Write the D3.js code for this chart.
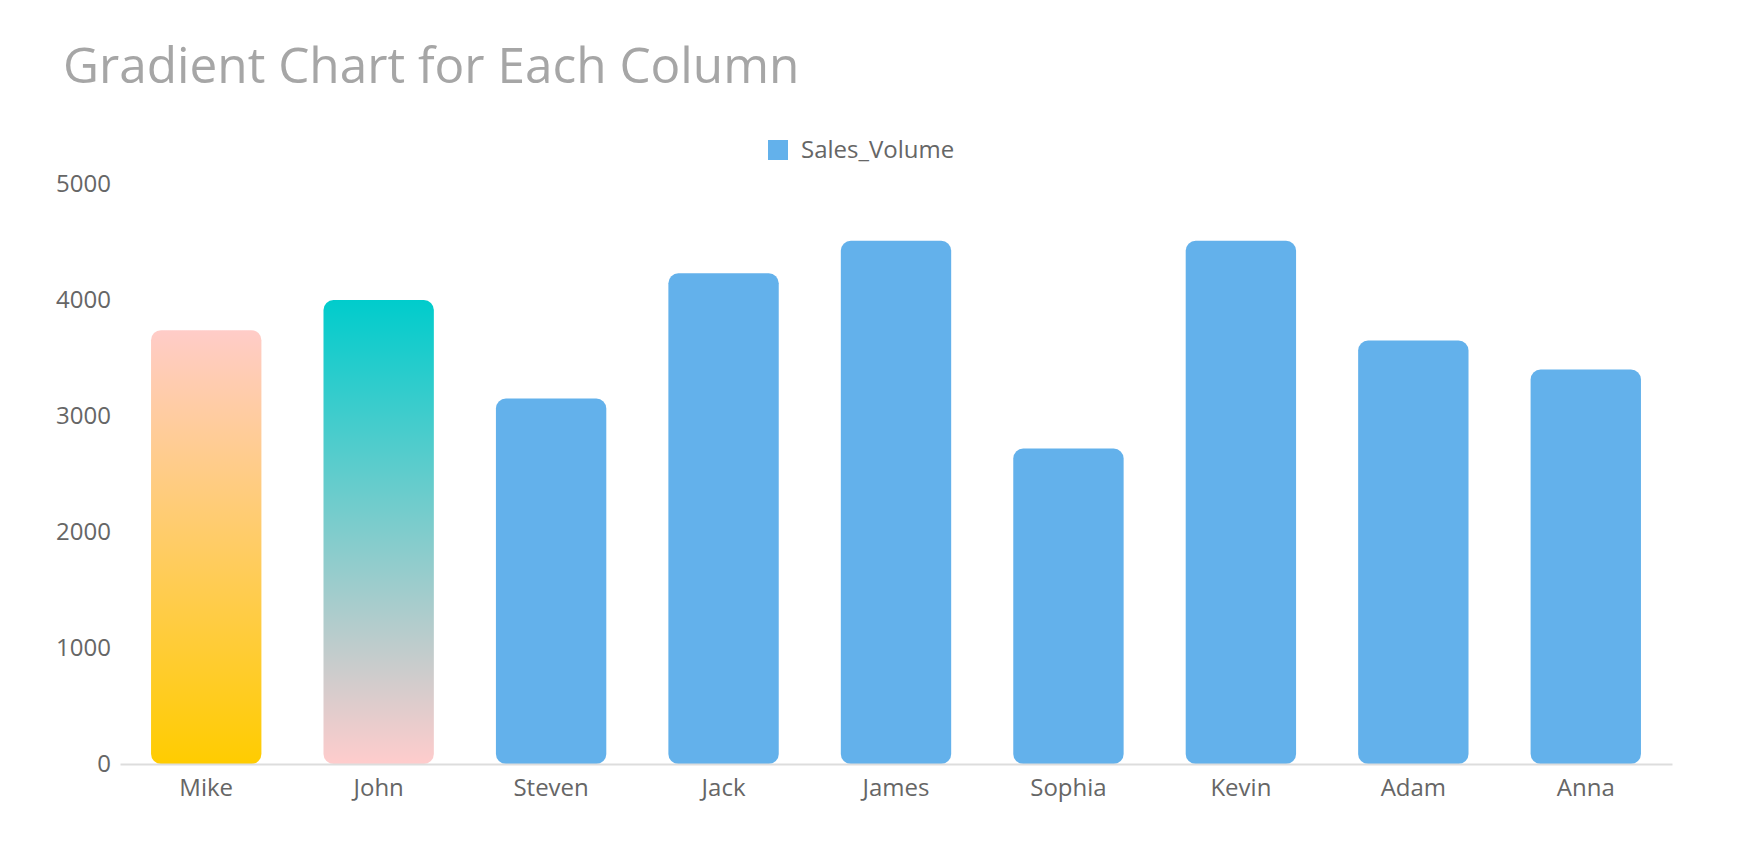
<!DOCTYPE html>
<html>
<head>
<meta charset="utf-8">
<script src="https://cdn.jsdelivr.net/npm/d3@7"></script>
<style>
  html, body { margin: 0; padding: 0; background: #fff; }
  svg text { font-family: "Open Sans", "Noto Sans", sans-serif; }
</style>
</head>
<body>
<div id="chart"></div>
<script>
// chart data
const names = ['Mike', 'John', 'Steven', 'Jack', 'James', 'Sophia', 'Kevin', 'Adam', 'Anna'];
const salesVolume = [3740, 4000, 3150, 4230, 4510, 2720, 4510, 3650, 3400];
const yTicks = [0, 1000, 2000, 3000, 4000, 5000];
const seriesName = 'Sales_Volume';

// per-column gradients (top colour, bottom colour), others plain blue
const gradients = {
    Mike: ['#ffccc8', '#ffcc00'],
    John: ['#00cccc', '#ffcccc']
};
const barColor = '#63b1eb';

const width = 1740, height = 864;
const margin = { top: 184, right: 68, bottom: 100, left: 120 };

const svg = d3.select('#chart')
    .append('svg')
    .attr('width', width)
    .attr('height', height);

// Title
svg.append('text')
    .attr('x', 63)
    .attr('y', 83)
    .attr('font-size', '49.5px')
    .attr('fill', '#a6a6a6')
    .text('Gradient Chart for Each Column');

// Legend
const legend = svg.append('g').attr('transform', 'translate(768,140)');
legend.append('rect')
    .attr('width', 20)
    .attr('height', 20)
    .attr('fill', barColor);
legend.append('text')
    .attr('x', 33)
    .attr('y', 10)
    .attr('dy', '0.35em')
    .attr('font-size', '24px')
    .attr('fill', '#666')
    .text(seriesName);

// Scales
const x = d3.scaleBand()
    .domain(names)
    .range([margin.left, width - margin.right])
    .paddingInner(0.36)
    .paddingOuter(0.18);

const y = d3.scaleLinear()
    .domain([0, 5000])
    .range([height - margin.bottom, margin.top]);

// Gradient defs
const defs = svg.append('defs');
for (const [name, [top, bottom]] of Object.entries(gradients)) {
    const g = defs.append('linearGradient')
        .attr('id', 'grad-' + name)
        .attr('x1', 0).attr('y1', 0)
        .attr('x2', 0).attr('y2', 1);
    g.append('stop').attr('offset', '0%').attr('stop-color', top);
    g.append('stop').attr('offset', '100%').attr('stop-color', bottom);
}

// Bars
svg.selectAll('.bar')
    .data(names.map((n, i) => ({ name: n, value: salesVolume[i] })))
    .enter()
    .append('rect')
    .attr('class', 'bar')
    .attr('x', d => x(d.name))
    .attr('y', d => y(d.value))
    .attr('width', x.bandwidth())
    .attr('height', d => y(0) - y(d.value))
    .attr('rx', 10)
    .attr('fill', d => gradients[d.name] ? `url(#grad-${d.name})` : barColor);

// Axes
const yAxis = svg.append('g')
    .attr('transform', `translate(${margin.left},0)`)
    .call(d3.axisLeft(y).tickValues(yTicks).tickFormat(d3.format('d')).tickSize(0).tickPadding(9));
yAxis.select('.domain').remove();
yAxis.selectAll('text')
    .attr('font-size', '24px')
    .attr('fill', '#666');

const xAxis = svg.append('g')
    .attr('transform', `translate(0,${y(0)})`)
    .call(d3.axisBottom(x).tickSize(0).tickPadding(15));
xAxis.select('.domain')
    .attr('stroke', '#dddddd')
    .attr('stroke-width', 2);
xAxis.selectAll('text')
    .attr('font-size', '24px')
    .attr('fill', '#666');
</script>
</body>
</html>
